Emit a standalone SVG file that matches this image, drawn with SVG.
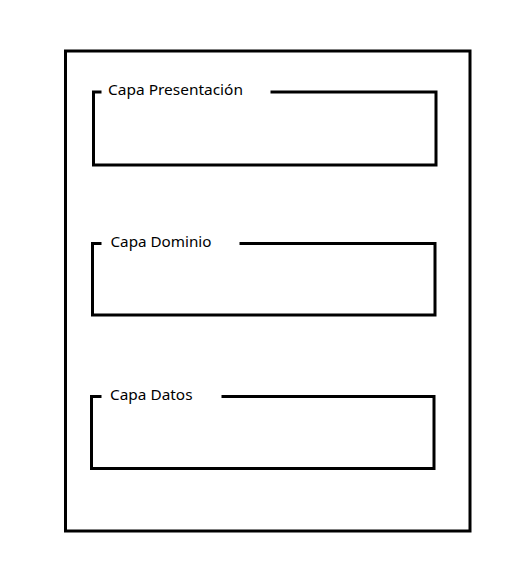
<svg xmlns="http://www.w3.org/2000/svg" width="531" height="578" viewBox="0 0 531 578">
<style>
.ln{fill:none;stroke:#000;stroke-width:3;stroke-linecap:square}
.lb{font-family:"Segoe UI","Noto Sans","Open Sans",sans-serif;font-size:15px;fill:#000}
</style>
<rect width="531" height="578" fill="#fff"/>
<g id="container">
<rect class="ln" x="65.5" y="51" width="404.5" height="480"/>
</g>
<g id="capa-presentacion">
<path class="ln" d="M100,92 H93.5 V165 H436 V92 H272"/>
<text class="lb" x="108" y="95" textLength="135" lengthAdjust="spacingAndGlyphs">Capa Presentación</text>
</g>
<g id="capa-dominio">
<path class="ln" d="M100,243.5 H92.5 V315 H435 V243.5 H241"/>
<text class="lb" x="110.5" y="246.5" textLength="101" lengthAdjust="spacingAndGlyphs">Capa Dominio</text>
</g>
<g id="capa-datos">
<path class="ln" d="M100,396.5 H91.5 V468.5 H434 V396.5 H223"/>
<text class="lb" x="110" y="400" textLength="82.5" lengthAdjust="spacingAndGlyphs">Capa Datos</text>
</g>
<g id="connectors"/>
</svg>
